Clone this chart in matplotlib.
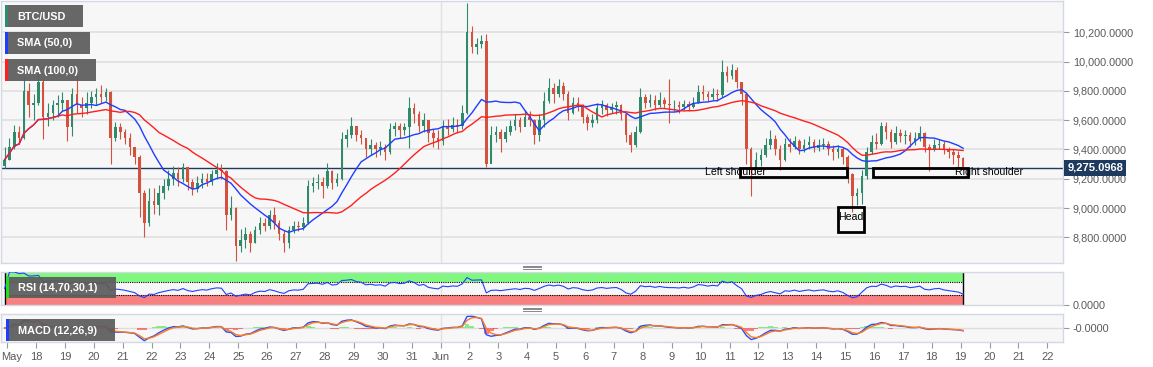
"""BTC/USD 4h candles with SMA, RSI and MACD panels (head & shoulders)."""

import matplotlib

matplotlib.use("Agg")

import matplotlib.pyplot as plt
import matplotlib.transforms as mtransforms
import numpy as np
import pandas as pd
from matplotlib.lines import Line2D
from matplotlib.patches import Rectangle

plt.rcParams["font.family"] = ["Liberation Sans", "DejaVu Sans"]

W, H = 1153, 367

# 4-hour bars, the first one opens 16 May 2020 20:00
START = "2020-05-16 20:00"
DAY0 = pd.Timestamp("2020-05-17")
FIRST_OPEN = 9290

close = [
    9330,
    9420, 9520, 9480, 9800, 9700, 9720,      # May 17
    9860, 9620, 9650, 9700, 9720, 9740,      # 18
    9550, 9780, 9700, 9680, 9720, 9760,      # 19
    9780, 9760, 9790, 9480, 9550, 9520,      # 20
    9480, 9420, 9350, 9100, 8900, 9050,      # 21
    9020, 9100, 9150, 9200, 9240, 9200,      # 22
    9280, 9180, 9130, 9170, 9200, 9180,      # 23
    9230, 9260, 9250, 8950, 9000, 8740,      # 24
    8780, 8820, 8760, 8850, 8900, 8880,      # 25
    8950, 8900, 8820, 8760, 8850, 8880,      # 26
    8870, 8900, 9150, 9170, 9180, 9150,      # 27
    9250, 9170, 9200, 9470, 9500, 9560,      # 28
    9500, 9480, 9400, 9430, 9400, 9420,      # 29
    9380, 9540, 9560, 9530, 9550, 9680,      # 30
    9640, 9560, 9600, 9510, 9480, 9460,      # 31
    9560, 9540, 9570, 9560, 9650, 10200,     # Jun 1
    10100, 10120, 10140, 9300, 9500, 9520,   # 2
    9470, 9520, 9560, 9600, 9550, 9620,      # 3
    9600, 9500, 9600, 9730, 9820, 9780,      # 4
    9830, 9780, 9650, 9720, 9700, 9620,      # 5
    9580, 9600, 9680, 9700, 9670, 9690,      # 6
    9700, 9640, 9500, 9430, 9520, 9760,      # 7
    9720, 9740, 9700, 9740, 9710, 9700,      # 8
    9700, 9690, 9710, 9690, 9720, 9790,      # 9
    9780, 9760, 9780, 9770, 9930, 9900,      # 10
    9940, 9860, 9780, 9400, 9260, 9330,      # 11
    9360, 9430, 9470, 9400, 9330, 9440,      # 12
    9420, 9460, 9400, 9430, 9450, 9410,      # 13
    9430, 9440, 9400, 9380, 9400, 9350,      # 14
    9230, 9080, 9100, 9220, 9380, 9450,      # 15
    9440, 9560, 9520, 9450, 9510, 9490,      # 16
    9500, 9460, 9480, 9510, 9420, 9400,      # 17
    9430, 9440, 9400, 9380, 9360, 9340,      # 18
    9275.0968,                               # 19
]
high = [
    9420,
    9480, 9570, 9560, 9895, 9850, 9780,
    9930, 9880, 9720, 9740, 9770, 9790,
    9720, 9820, 9910, 9760, 9790, 9800,
    9820, 9840, 9820, 9800, 9590, 9580,
    9540, 9510, 9420, 9360, 9120, 9140,
    9140, 9160, 9200, 9260, 9290, 9280,
    9310, 9280, 9200, 9220, 9240, 9240,
    9260, 9305, 9300, 9260, 9080, 9010,
    8860, 8870, 8840, 8880, 8940, 8930,
    8990, 9005, 8920, 8850, 8880, 8910,
    8910, 8940, 9190, 9210, 9230, 9210,
    9310, 9260, 9240, 9520, 9540, 9620,
    9560, 9530, 9470, 9470, 9450, 9460,
    9440, 9580, 9590, 9580, 9580, 9760,
    9720, 9660, 9650, 9600, 9540, 9530,
    9600, 9610, 9620, 9610, 9700, 10400,
    10240, 10160, 10180, 10190, 9560, 9560,
    9540, 9560, 9600, 9640, 9620, 9670,
    9660, 9610, 9640, 9790, 9890, 9850,
    9880, 9860, 9800, 9760, 9760, 9710,
    9640, 9640, 9720, 9740, 9720, 9720,
    9730, 9710, 9650, 9520, 9560, 9820,
    9780, 9780, 9770, 9790, 9760, 9880,
    9740, 9730, 9740, 9730, 9760, 9840,
    9840, 9800, 9820, 9810, 10010, 9970,
    9980, 9960, 9860, 9790, 9420, 9380,
    9400, 9480, 9530, 9500, 9430, 9480,
    9480, 9490, 9470, 9470, 9490, 9470,
    9470, 9480, 9460, 9430, 9430, 9420,
    9360, 9240, 9140, 9260, 9420, 9500,
    9510, 9590, 9590, 9540, 9560, 9540,
    9530, 9520, 9520, 9560, 9520, 9440,
    9470, 9470, 9460, 9420, 9400, 9390,
    9350,
]
low = [
    9270,
    9330, 9400, 9440, 9470, 9620, 9600,
    9700, 9470, 9560, 9600, 9620, 9660,
    9460, 9490, 9650, 9620, 9640, 9680,
    9700, 9720, 9730, 9300, 9460, 9470,
    9440, 9360, 9300, 8940, 8800, 8880,
    8960, 8950, 9060, 9120, 9160, 9150,
    9180, 9120, 9090, 9110, 9140, 9150,
    9160, 9200, 9200, 8850, 8920, 8640,
    8700, 8730, 8700, 8760, 8820, 8840,
    8860, 8860, 8780, 8700, 8730, 8830,
    8840, 8850, 8890, 9110, 9130, 9070,
    9140, 9130, 9150, 9190, 9420, 9480,
    9460, 9440, 9350, 9360, 9350, 9360,
    9330, 9370, 9490, 9480, 9500, 9410,
    9580, 9520, 9520, 9450, 9420, 9400,
    9430, 9500, 9520, 9510, 9540, 9640,
    10060, 10050, 10090, 9280, 9330, 9450,
    9380, 9450, 9500, 9530, 9520, 9560,
    9560, 9440, 9460, 9550, 9720, 9720,
    9760, 9740, 9600, 9640, 9660, 9580,
    9530, 9550, 9580, 9640, 9630, 9650,
    9640, 9600, 9450, 9380, 9420, 9510,
    9680, 9690, 9670, 9690, 9680, 9580,
    9660, 9650, 9670, 9660, 9680, 9720,
    9740, 9730, 9740, 9730, 9760, 9860,
    9880, 9820, 9700, 9300, 9080, 9270,
    9290, 9350, 9400, 9360, 9260, 9320,
    9380, 9400, 9370, 9380, 9400, 9380,
    9390, 9400, 9360, 9330, 9340, 9300,
    9170, 8970, 9020, 9030, 9200, 9370,
    9400, 9430, 9470, 9410, 9440, 9450,
    9440, 9420, 9430, 9460, 9380, 9250,
    9390, 9400, 9370, 9340, 9300, 9280,
    9260,
]

price_ticks = [8800, 9000, 9200, 9400, 9600, 9800, 10000, 10200]
day_ticks = list(range(0, 37))
sma_windows = [12, 25]           # 50h and 100h in 4h bars
rsi_period = 10
rsi_levels = [30, 70]
macd_spans = [3, 6.5, 2.25]      # 12/26/9 hourly in 4h bars

# pattern annotations: (day start, day end, price low, price high)
left_shoulder_box = (25.36, 29.07, 9212, 9273)
head_box = (28.75, 29.65, 8836, 9007)
right_shoulder_box = (29.97, 33.25, 9212, 9273)

UP = "#2f8a6c"
DOWN = "#d4513e"
SMA_COLORS = ["#1f3dff", "#ff1f1f"]
BG = "#f7f7f7"
GRID = "#e1e1e1"
SPINE = "#d3d8e3"
TXT = "#5a5a5a"
NAVY = "#1f3a5f"


def day_label(d):
    if d < 15:
        return "May" if d == 0 else str(17 + d)
    return "Jun" if d == 15 else str(d - 14)


def rsi(series, period):
    delta = series.diff()
    gain = delta.clip(lower=0).ewm(alpha=1 / period, adjust=False).mean()
    loss = (-delta.clip(upper=0)).ewm(alpha=1 / period, adjust=False).mean()
    return (100 - 100 / (1 + gain / loss)).fillna(50)


def fig_rect(fig, x, y, w, h, **kw):
    fig.add_artist(Rectangle((x / W, 1 - (y + h) / H), w / W, h / H,
                             transform=fig.transFigure, **kw))


def label_box(fig, x, y, w, h, text, stripe):
    fig_rect(fig, x, y, w, h, fc="#5c5c5c", ec="none", alpha=0.93, zorder=10)
    fig_rect(fig, x, y, 2.5, h, fc=stripe, ec="none", zorder=11)
    fig.text((x + 12) / W, 1 - (y + h / 2 + 0.5) / H, text, color="white",
             fontsize=7.8, fontweight="bold", va="center", zorder=12)


times = pd.date_range(START, periods=len(close), freq="4h")
t = ((times - DAY0) / pd.Timedelta(days=1)).to_numpy() + 2 / 24
c = pd.Series(close, dtype=float)
o = pd.Series([FIRST_OPEN] + close[:-1], dtype=float)
hi = np.array(high, dtype=float)
lo = np.array(low, dtype=float)
up = (c >= o).to_numpy()
colors = np.where(up, UP, DOWN)

fig = plt.figure(figsize=(W / 100, H / 100), dpi=100)
fig.patch.set_facecolor("white")
ax = fig.add_axes([1 / W, 1 - 263 / H, 1062 / W, 262 / H])
ax_rsi = fig.add_axes([1 / W, 1 - 305 / H, 1062 / W, 33 / H], sharex=ax)
ax_macd = fig.add_axes([1 / W, 1 - 342 / H, 1062 / W, 28 / H], sharex=ax)

for a in (ax, ax_rsi, ax_macd):
    a.set_facecolor(BG)
    for s in a.spines.values():
        s.set_color(SPINE)
        s.set_linewidth(1)
    a.yaxis.tick_right()
    a.tick_params(axis="y", length=4, color="#999999", labelcolor=TXT,
                  labelsize=7.8, pad=3)
    a.axvline(15, color=GRID, lw=1, zorder=0)

# price panel
ax.vlines(t, lo, hi, colors=colors, lw=0.8, zorder=3)
body = np.maximum((c - o).abs().to_numpy(), 6)
ax.bar(t, body, bottom=np.minimum(o, c), width=0.09, color=colors,
       lw=0, zorder=4)
for win, col in zip(sma_windows, SMA_COLORS):
    ax.plot(t, c.rolling(win, min_periods=1).mean(), color=col, lw=1, zorder=5)
ax.axhline(close[-1], color=NAVY, lw=1, zorder=2)
ax.set_ylim(8625, 10413)
ax.set_yticks(price_ticks)
ax.yaxis.set_major_formatter(lambda v, _: f"{v:,.4f}")
ax.grid(axis="y", color=GRID, lw=1.3, zorder=0)
ax.set_axisbelow(True)
ax.tick_params(axis="x", bottom=False, labelbottom=False)

blend = mtransforms.blended_transform_factory(ax.transAxes, ax.transData)
ax.text(1.004, close[-1], f"{close[-1]:,.4f}", transform=blend, color="white",
        fontsize=8, fontweight="bold", va="center", ha="left",
        bbox=dict(boxstyle="square,pad=0.25", fc=NAVY, ec="none"), zorder=10)

for (x0, x1, y0, y1) in (left_shoulder_box, head_box, right_shoulder_box):
    ax.add_patch(Rectangle((x0, y0), x1 - x0, y1 - y0, fill=False,
                           ec="black", lw=2, zorder=7))
ax.text(25.2, 9246, "Left shoulder", fontsize=7.6, ha="center", va="center", zorder=8)
ax.text(29.2, 8938, "Head", fontsize=7.6, ha="center", va="center", zorder=8)
ax.text(33.98, 9246, "Right shoulder", fontsize=7.6, ha="center", va="center", zorder=8)

# RSI panel
r = rsi(c, rsi_period)
ax_rsi.fill_between(t, rsi_levels[1], 100, color="#80f880", lw=0, zorder=1)
ax_rsi.fill_between(t, 0, rsi_levels[0], color="#f98080", lw=0, zorder=1)
ax_rsi.hlines(rsi_levels, t[0], t[-1], colors="black", lw=0.8,
              linestyles=(0, (1, 1)), zorder=2)
ax_rsi.vlines([t[0], t[-1]], 0, 100, colors="black", lw=1, zorder=2)
ax_rsi.plot(t, r, color="#2040ff", lw=0.8, zorder=3)
ax_rsi.set_ylim(0, 100)
ax_rsi.set_yticks([0])
ax_rsi.set_yticklabels(["0.0000"])
ax_rsi.tick_params(axis="x", bottom=False, labelbottom=False)

# MACD panel
fast, slow, sig = macd_spans
macd = c.ewm(span=fast, adjust=False).mean() - c.ewm(span=slow, adjust=False).mean()
signal = macd.ewm(span=sig, adjust=False).mean()
hist = macd - signal
ax_macd.axhline(0, color="#dddddd", lw=1, zorder=0)
ax_macd.bar(t, hist, width=0.17, color=np.where(hist >= 0, "#33e033", "#ff2020"),
            alpha=0.55, lw=0, zorder=1)
ax_macd.plot(t, signal, color="#ff7a1a", lw=1, zorder=3)
ax_macd.plot(t, macd, color="#2a4cff", lw=1, zorder=2)
lim = np.abs(macd).max() * 1.1
ax_macd.set_ylim(-lim, lim)
ax_macd.set_yticks([0])
ax_macd.set_yticklabels(["-0.0000"])
ax_macd.set_xticks(day_ticks)
ax_macd.set_xticklabels([day_label(d) for d in day_ticks])
ax_macd.tick_params(axis="x", length=4, color="#999999", labelcolor=TXT,
                    labelsize=8, pad=3)
first = ax_macd.get_xticklabels()[0]
first.set_horizontalalignment("left")
first.set_transform(first.get_transform()
                    + mtransforms.ScaledTranslation(-6 / 100, 0, fig.dpi_scale_trans))
ax.set_xlim(-0.21, 36.54)

# legend tags
label_box(fig, 5, 5, 78, 22, "BTC/USD", "#2f8a6c")
label_box(fig, 5, 32, 85, 22, "SMA (50,0)", "#1f3dff")
label_box(fig, 5, 59, 91, 22, "SMA (100,0)", "#ff1f1f")
label_box(fig, 6, 277, 110, 21, "RSI (14,70,30,1)", "#22dd22")
label_box(fig, 6, 319, 109, 22, "MACD (12,26,9)", "#1f3dff")

# panel splitter grips
for yy in (267, 309):
    for k in (-1.5, 0, 1.5):
        fig.add_artist(Line2D([523 / W, 541 / W], [1 - (yy + k) / H] * 2,
                              color="#888888", lw=0.7, transform=fig.transFigure))

fig.savefig("out.png", dpi=100, facecolor="white")
